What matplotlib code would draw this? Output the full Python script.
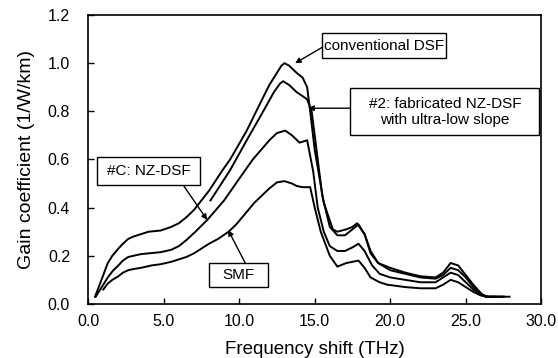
import matplotlib
matplotlib.use("Agg")
import matplotlib.pyplot as plt
from matplotlib.patches import Rectangle

plt.rcParams['font.family'] = ['Liberation Sans', 'DejaVu Sans']

# conventional DSF
t_dsf = [0.45, 0.7, 1.0, 1.3, 1.6, 2.0, 2.3, 2.65, 3.0, 3.5, 4.0, 4.8, 5.5, 6.0, 6.5, 7.0, 7.5,
         8.0, 8.9, 9.4, 10.5, 11.6, 12.0, 12.5, 12.8, 13.0, 13.3, 13.8, 14.2, 14.5, 14.7, 15.0,
         15.6, 16.2, 16.5, 17.1, 17.5, 17.8, 18.3, 18.7, 19.2, 20.0, 21.0, 22.0, 23.0, 23.5,
         24.0, 24.5, 25.0, 25.5, 26.0, 26.3, 27.0, 27.9]
g_dsf = [0.03, 0.07, 0.12, 0.17, 0.20, 0.23, 0.25, 0.27, 0.28, 0.29, 0.30, 0.305, 0.32, 0.335, 0.36, 0.39, 0.43,
         0.47, 0.556, 0.60, 0.72, 0.86, 0.91, 0.96, 0.99, 1.00, 0.99, 0.96, 0.94, 0.90, 0.80, 0.64,
         0.42, 0.31, 0.30, 0.31, 0.32, 0.335, 0.29, 0.21, 0.17, 0.15, 0.13, 0.115, 0.11, 0.13,
         0.17, 0.16, 0.12, 0.08, 0.045, 0.03, 0.03, 0.03]

# #2: fabricated NZ-DSF with ultra-low slope
t_nz2 = [8.1, 9.4, 10.5, 11.5, 12.3, 12.7, 12.9, 13.3, 13.8, 14.5, 14.8, 15.0, 15.5, 16.0, 16.5,
         17.0, 17.5, 17.9, 18.3, 18.7, 19.2, 20.0, 21.0, 22.0, 23.0, 23.5, 24.0, 24.5, 25.0,
         25.5, 26.0, 26.3, 27.0]
g_nz2 = [0.43, 0.556, 0.68, 0.79, 0.88, 0.915, 0.925, 0.91, 0.88, 0.85, 0.80, 0.70, 0.45, 0.32, 0.285,
         0.285, 0.31, 0.33, 0.29, 0.22, 0.17, 0.14, 0.125, 0.11, 0.105, 0.12, 0.15, 0.14, 0.11,
         0.07, 0.04, 0.03, 0.03]

# #C: NZ-DSF
t_nzc = [0.5, 0.8, 1.0, 1.3, 1.6, 2.0, 2.3, 2.65, 3.0, 3.5, 4.8, 5.5, 6.0, 6.5, 7.1, 7.9, 9.0,
         10.0, 10.9, 12.0, 12.5, 13.05, 13.5, 14.0, 14.5, 14.9, 15.2, 15.6, 16.0, 16.5, 17.0,
         17.5, 17.9, 18.3, 18.8, 19.3, 20.0, 21.0, 22.0, 23.0, 23.5, 24.0, 24.5, 25.0, 25.5,
         26.0, 26.5, 27.5]
g_nzc = [0.03, 0.06, 0.08, 0.11, 0.135, 0.16, 0.18, 0.195, 0.20, 0.207, 0.215, 0.225, 0.24, 0.265, 0.30, 0.35, 0.43,
         0.52, 0.60, 0.68, 0.71, 0.72, 0.70, 0.67, 0.68, 0.55, 0.40, 0.30, 0.24, 0.22, 0.22,
         0.235, 0.25, 0.22, 0.16, 0.125, 0.11, 0.10, 0.09, 0.09, 0.11, 0.13, 0.12, 0.09, 0.06,
         0.04, 0.03, 0.03]

# SMF
t_smf = [1.0, 1.3, 1.6, 2.0, 2.3, 2.65, 3.0, 3.5, 4.2, 4.8, 5.5, 6.0, 6.5, 7.0, 7.5, 8.0, 8.6,
         9.3, 9.8, 10.2, 11.0, 12.0, 12.5, 13.0, 13.5, 13.8, 14.2, 14.7, 15.0, 15.4, 16.0,
         16.5, 17.1, 17.9, 18.3, 18.7, 19.3, 19.8, 21.0, 22.0, 23.0, 23.5, 24.0, 24.5, 25.0,
         25.5, 26.0, 26.5, 27.5]
g_smf = [0.06, 0.085, 0.10, 0.115, 0.13, 0.14, 0.145, 0.15, 0.16, 0.165, 0.175, 0.185, 0.195, 0.21, 0.23, 0.25, 0.27,
         0.30, 0.33, 0.36, 0.42, 0.48, 0.505, 0.51, 0.50, 0.49, 0.485, 0.485, 0.40, 0.30, 0.20,
         0.155, 0.17, 0.18, 0.15, 0.11, 0.09, 0.08, 0.07, 0.065, 0.065, 0.08, 0.10, 0.09, 0.07,
         0.05, 0.035, 0.03, 0.03]

x_ticks = [0, 5, 10, 15, 20, 25, 30]
y_ticks = [0.0, 0.2, 0.4, 0.6, 0.8, 1.0, 1.2]

# label text, box (x0, x1, y0, y1), arrow start, arrow tip -- in data units
labels = [
    ("conventional DSF", (15.5, 23.7, 1.021, 1.124), (15.5, 1.066), (13.7, 1.0)),
    ("#2: fabricated NZ-DSF\nwith ultra-low slope", (17.35, 29.87, 0.701, 0.896), (17.35, 0.813), (14.57, 0.813)),
    ("#C: NZ-DSF", (0.6, 7.42, 0.494, 0.61), (6.29, 0.494), (7.88, 0.349)),
    ("SMF", (8.01, 11.92, 0.071, 0.170), (10.4, 0.170), (9.27, 0.307)),
]

fig = plt.figure(figsize=(5.58, 3.58), dpi=100)
ax = fig.add_axes([0.158, 0.151, 0.812, 0.807])

for t, g in [(t_dsf, g_dsf), (t_nz2, g_nz2), (t_nzc, g_nzc), (t_smf, g_smf)]:
    ax.plot(t, g, color='black', lw=1.4)

ax.set_xlim(0, 30)
ax.set_ylim(0, 1.2)
ax.set_xticks(x_ticks)
ax.set_xticklabels([f"{v:.1f}" for v in x_ticks])
ax.set_yticks(y_ticks)
ax.set_yticklabels([f"{v:.1f}" for v in y_ticks])
ax.tick_params(direction='in', length=4, width=1, labelsize=11.5)
ax.tick_params(axis='x', pad=7)
ax.tick_params(axis='y', pad=13)
for s in ax.spines.values():
    s.set_linewidth(1.2)

ax.set_xlabel("Frequency shift (THz)", fontsize=13.5, labelpad=9)
ax.set_ylabel("Gain coefficient (1/W/km)", fontsize=14, labelpad=9)

arrow = dict(arrowstyle='-|>', color='black', lw=1, mutation_scale=8, shrinkA=0, shrinkB=0)
for text, (x0, x1, y0, y1), start, tip in labels:
    ax.add_patch(Rectangle((x0, y0), x1 - x0, y1 - y0, fc='white', ec='black', lw=1, zorder=3))
    ax.text((x0 + x1) / 2, (y0 + y1) / 2, text, fontsize=11, ha='center', va='center',
            linespacing=1.15, zorder=4)
    ax.annotate("", xy=tip, xytext=start, arrowprops=arrow, zorder=2)

fig.savefig("out.png", dpi=100)
